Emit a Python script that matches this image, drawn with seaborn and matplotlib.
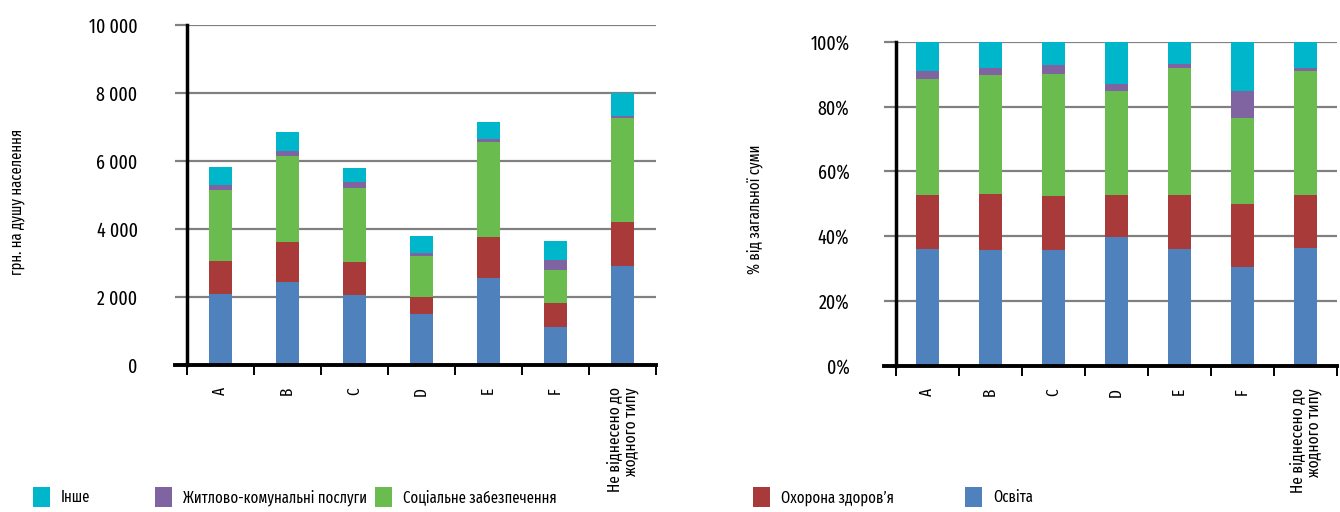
import matplotlib

matplotlib.use("Agg")

import matplotlib.pyplot as plt
import pandas as pd
import seaborn as sns
from matplotlib.patches import Patch
from matplotlib.ticker import FixedLocator, FuncFormatter, PercentFormatter


CATEGORIES = ["A", "B", "C", "D", "E", "F", "Не віднесено до\nжодного типу"]

# грн. на душу населення
EDUCATION = [2090, 2440, 2060, 1510, 2570, 1110, 2910]
HEALTH = [970, 1180, 970, 490, 1190, 710, 1300]
SOCIAL = [2090, 2530, 2180, 1210, 2800, 970, 3050]
HOUSING = [140, 140, 170, 80, 90, 310, 70]
OTHER = [530, 560, 410, 500, 500, 550, 660]

SECTORS = ["Інше", "Житлово-комунальні послуги", "Соціальне забезпечення", "Охорона здоровʼя", "Освіта"]
COLORS = ["#00B6CB", "#8064A2", "#6BBC4E", "#A83A3A", "#4F81BD"]

LEFT_TICKS = [0, 2000, 4000, 6000, 8000, 10000]
RIGHT_TICKS = [0, 0.2, 0.4, 0.6, 0.8, 1.0]

W, H = 1340, 512
GRID = "#808080"


def long_table() -> pd.DataFrame:
    series = dict(zip(SECTORS, [OTHER, HOUSING, SOCIAL, HEALTH, EDUCATION]))
    rows = []
    for sector, values in series.items():
        for cat, val in zip(CATEGORIES, values):
            rows.append({"type": cat, "sector": sector, "value": val})
    return pd.DataFrame(rows)


def style_axes(ax, ticks, pad_y, formatter, step_px):
    n = len(CATEGORIES)
    ax.set_xlim(-0.5, n - 0.5)
    ax.set_ylim(ticks[0], ticks[-1])
    ax.yaxis.set_major_locator(FixedLocator(ticks))
    ax.yaxis.set_major_formatter(formatter)
    ax.set_xticks(range(n))
    ax.set_xticklabels(CATEGORIES, rotation=90, va="top", ha="center",
                       multialignment="right", fontsize=12, linespacing=1.0)
    ax.set_xticks([i - 0.5 for i in range(n + 1)], minor=True)
    ax.tick_params(axis="x", which="major", bottom=True, length=0, pad=16)
    ax.tick_params(axis="x", which="minor", bottom=True, length=7, width=1.4,
                   color="black", direction="out")
    ax.tick_params(axis="y", which="major", left=True, length=8.6, width=1.6,
                   color=GRID, pad=pad_y, labelsize=14)
    ax.grid(axis="y", color=GRID, linewidth=1.6)
    ax.grid(axis="x", visible=False)
    ax.set_axisbelow(True)
    for side in ("top", "right"):
        ax.spines[side].set_visible(False)
    for side, lw in (("left", 2.5), ("bottom", 2.8)):
        ax.spines[side].set_visible(True)
        ax.spines[side].set_color("black")
        ax.spines[side].set_linewidth(lw)
        ax.spines[side].set_zorder(5)
    # the baseline runs a little past the value axis, like the grid ticks do
    ax.spines["bottom"].set_bounds(-0.5 - 12 / step_px, n - 0.5)
    ax.set_xlabel("")
    ax.set_ylabel("")


def main() -> None:
    sns.set_theme(style="white")
    plt.rcParams["font.family"] = ["Fira Sans Extra Condensed", "DejaVu Sans"]
    plt.rcParams["text.color"] = "black"
    plt.rcParams["xtick.color"] = "black"
    plt.rcParams["ytick.color"] = "black"

    df = long_table()
    fig = plt.figure(figsize=(W / 100, H / 100), dpi=100)
    ax_abs = fig.add_axes([187 / W, (H - 365) / H, 469 / W, 340 / H])
    ax_pct = fig.add_axes([896 / W, (H - 365.7) / H, 441 / W, 324 / H])

    common = dict(data=df, x="type", weights="value", hue="sector", hue_order=SECTORS,
                  palette=COLORS, discrete=True, alpha=1, linewidth=0, legend=False)
    sns.histplot(ax=ax_abs, multiple="stack", shrink=0.34, **common)
    sns.histplot(ax=ax_pct, multiple="fill", shrink=0.35, **common)

    style_axes(ax_abs, LEFT_TICKS, 27,
               FuncFormatter(lambda v, _: f"{v:,.0f}".replace(",", " ")), 67)
    style_axes(ax_pct, RIGHT_TICKS, 25, PercentFormatter(1.0, decimals=0), 63)

    fig.text(17 / W, 1 - 202 / H, "грн. на душу населення", rotation=90,
             ha="center", va="center", fontsize=11.5)
    fig.text(755 / W, 1 - 209 / H, "% від загальної суми", rotation=90,
             ha="center", va="center", fontsize=11.5)

    # legend entries sit at uneven spots in the original, so one legend each
    legend_x = [33, 155, 375, 753, 965]
    for x, label, color in zip(legend_x, SECTORS, COLORS):
        fig.legend(handles=[Patch(facecolor=color, edgecolor="none", label=label)],
                   loc="center left", bbox_to_anchor=(x / W, 1 - 497 / H),
                   frameon=False, fontsize=11.5, handlelength=1.05, handleheight=1.6,
                   handletextpad=0.7, borderpad=0, borderaxespad=0)

    fig.savefig("out.png", dpi=100)
    plt.close(fig)


if __name__ == "__main__":
    main()
